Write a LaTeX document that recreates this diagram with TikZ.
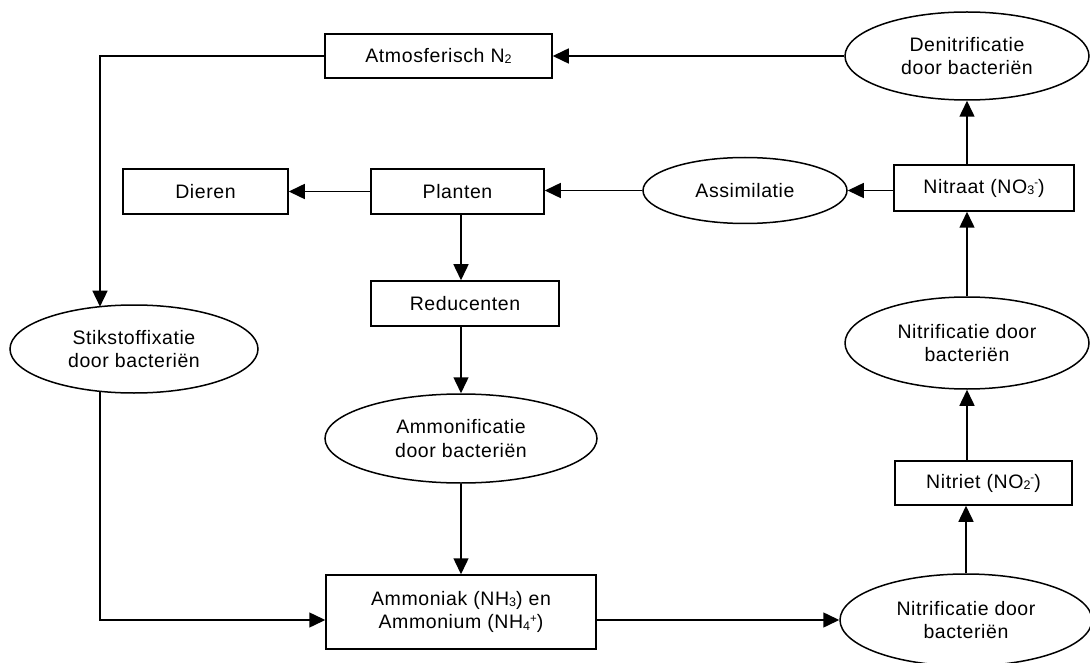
\documentclass[tikz,border=0pt]{standalone}
\usepackage{fontspec}
\setmainfont{Liberation Sans}[LetterSpace=3]
\usetikzlibrary{arrows.meta,shapes.geometric}
\newcommand\dn[1]{\raisebox{-1.5pt}{\fontsize{12.5}{12.5}\selectfont #1}}
\newcommand\up[1]{\raisebox{6.5pt}{\fontsize{11.5}{11.5}\selectfont #1}}
\begin{document}
\begin{tikzpicture}[x=1pt,y=-1pt,
  every node/.style={font=\fontsize{19.5}{23.5}\selectfont, align=center, inner sep=0pt},
  box/.style={draw, line width=1.5pt, rectangle},
  ell/.style={draw, line width=1.5pt, ellipse},
  conn/.style={line width=1.5pt, -{Triangle[length=16pt,width=15pt]}}]
\useasboundingbox (0,0) rectangle (1090,663);
\node[box, minimum width=227pt, minimum height=44pt] (atm) at (438.5,56) {Atmosferisch N\dn{2}};
\node[ell, minimum width=244pt, minimum height=88pt] (den) at (967,56) {Denitrificatie\\door bacteriën};
\node[box, minimum width=165pt, minimum height=45pt] (die) at (205.5,191.5) {Dieren};
\node[box, minimum width=173pt, minimum height=45pt] (pla) at (457.5,191.5) {Planten};
\node[ell, minimum width=204pt, minimum height=66pt] (ass) at (745,190.5) {Assimilatie};
\node[box, minimum width=180pt, minimum height=46pt] (nit) at (984,188) {Nitraat (NO\dn{3}\up{-})};
\node[box, minimum width=188pt, minimum height=45pt] (red) at (465,303.5) {Reducenten};
\node[ell, minimum width=248pt, minimum height=88pt] (stik) at (134,349) {Stikstoffixatie\\door bacteriën};
\node[ell, minimum width=272pt, minimum height=89pt] (amf) at (461,438.5) {Ammonificatie\\door bacteriën};
\node[ell, minimum width=244pt, minimum height=92pt] (nup) at (967,343) {Nitrificatie door\\bacteriën};
\node[box, minimum width=177pt, minimum height=44pt] (nitr) at (983.5,483) {Nitriet (NO\dn{2}\up{-})};
\node[box, minimum width=270pt, minimum height=74pt] (amm) at (461,612) {Ammoniak (NH\dn{3}) en\\Ammonium (NH\dn{4}\up{+})};
\node[ell, minimum width=252pt, minimum height=92pt] (nlow) at (966,620) {Nitrificatie door\\bacteriën};
\coordinate (s1) at (100,306.7);
\coordinate (s2) at (100,391.3);
% connectors
\draw[conn] (den.west) -- (atm.east);
\draw[conn] (atm.west) -| (s1);
\draw[conn] (s2) |- (nlow.west -| amm.west);
\draw[conn] (pla.west) -- (die.east);
\draw[conn] (ass.west) -- (ass.west -| pla.east);
\draw[conn] (nit.west |- ass.east) -- (ass.east);
\draw[conn] (den.south |- nit.north) -- (den.south);
\draw[conn] (nup.north) -- (nup.north |- nit.south);
\draw[conn] (nup.south |- nitr.north) -- (nup.south);
\draw[conn] (nlow.north) -- (nlow.north |- nitr.south);
\draw[conn] (nlow.west -| amm.east) -- (nlow.west);
\draw[conn] (pla.south -| amf.north) -- (red.north -| amf.north);
\draw[conn] (red.south -| amf.north) -- (amf.north);
\draw[conn] (amf.south) -- (amm.north);
\end{tikzpicture}
\end{document}
